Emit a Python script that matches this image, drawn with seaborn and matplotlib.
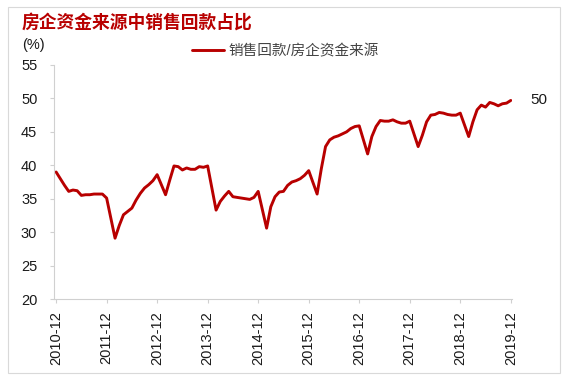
import pandas as pd
import seaborn as sns
import matplotlib.pyplot as plt

# monthly ratio (%), Jan-Feb reported together so January is skipped
ratio = [
    39.0,
    37.0, 36.1, 36.3, 36.2, 35.5, 35.6, 35.6, 35.7, 35.7, 35.7, 35.1,  # 2011
    29.1, 31.0, 32.6, 33.1, 33.6, 34.8, 35.8, 36.6, 37.1, 37.7, 38.6,  # 2012
    35.6, 37.8, 39.9, 39.8, 39.3, 39.6, 39.4, 39.4, 39.8, 39.7, 39.9,  # 2013
    33.3, 34.6, 35.4, 36.1, 35.3, 35.2, 35.1, 35.0, 34.9, 35.2, 36.1,  # 2014
    30.6, 33.8, 35.3, 36.0, 36.1, 37.0, 37.5, 37.7, 38.0, 38.5, 39.2,  # 2015
    35.7, 39.5, 42.8, 43.8, 44.2, 44.4, 44.7, 45.0, 45.5, 45.8, 45.9,  # 2016
    41.7, 44.3, 45.8, 46.7, 46.6, 46.6, 46.8, 46.5, 46.3, 46.3, 46.6,  # 2017
    42.8, 44.5, 46.5, 47.5, 47.6, 47.9, 47.8, 47.6, 47.5, 47.5, 47.8,  # 2018
    44.3, 46.5, 48.3, 49.0, 48.7, 49.4, 49.2, 48.9, 49.2, 49.3, 49.7,  # 2019
]
tick_labels = ["2010-12", "2011-12", "2012-12", "2013-12", "2014-12",
               "2015-12", "2016-12", "2017-12", "2018-12", "2019-12"]
series_name = "销售回款/房企资金来源"
title = "房企资金来源中销售回款占比"

months = pd.date_range("2010-12-01", "2019-12-01", freq="MS")
months = months[months.month != 1]
df = pd.DataFrame({"month": months, "ratio": ratio})
# months elapsed since 2010-12
df["idx"] = (df["month"].dt.year - 2010) * 12 + df["month"].dt.month - 12

sns.set_style("white")
plt.rcParams["font.family"] = ["Liberation Sans", "Noto Sans CJK SC", "DejaVu Sans"]

fig = plt.figure(figsize=(5.69, 3.79), dpi=100)
ax = fig.add_axes([0.0949, 0.211, 0.805, 0.6175])

red = "#B80000"
sns.lineplot(data=df, x="idx", y="ratio", ax=ax, color=red, linewidth=2.1,
             label=series_name)

ax.set_xlim(-0.5, 108.3)
ax.set_ylim(20, 55)
ax.set_yticks(range(20, 56, 5))
ax.set_xticks([12 * i for i in range(len(tick_labels))])
ax.set_xticklabels(tick_labels, rotation=90)
ax.set_xlabel("")
ax.set_ylabel("")

for s in ["top", "right"]:
    ax.spines[s].set_visible(False)
for s in ["left", "bottom"]:
    ax.spines[s].set_color("#D0D0D0")
    ax.spines[s].set_linewidth(0.8)
ax.tick_params(axis="y", length=3, width=0.8, color="#D0D0D0", pad=9,
               labelsize=10.5, labelcolor="#1A1A1A", left=True)
ax.tick_params(axis="x", length=3, width=0.8, color="#D0D0D0", pad=6,
               labelsize=10.5, labelcolor="#1A1A1A", bottom=True)

# end value label
last = df.iloc[-1]
ax.annotate(f"{last['ratio']:.0f}", xy=(last["idx"], last["ratio"]),
            xytext=(14, 0), textcoords="offset points", ha="left", va="center",
            fontsize=11, color="#1A1A1A", annotation_clip=False)

ax.legend(loc="center left", bbox_to_anchor=(0.272, 1.06), frameon=False,
          fontsize=10.5, handlelength=2.2, handletextpad=0.3,
          labelcolor="#444444")

fig.text(22 / 569, 1 - 23 / 379, title, fontsize=12.8, fontweight="bold",
         color=red, va="center", ha="left", family=["Noto Sans CJK SC"])
fig.text(22 / 569, 1 - 45 / 379, "(%)", fontsize=10.5, color="#1A1A1A",
         va="center", ha="left")

# thin frame round the picture
fig.add_artist(plt.Rectangle((8 / 569, 1 - 373 / 379), 552 / 569, 366 / 379,
                             transform=fig.transFigure, fill=False,
                             edgecolor="#D9D9D9", linewidth=0.8))

fig.savefig("out.png", dpi=100, facecolor="white")
